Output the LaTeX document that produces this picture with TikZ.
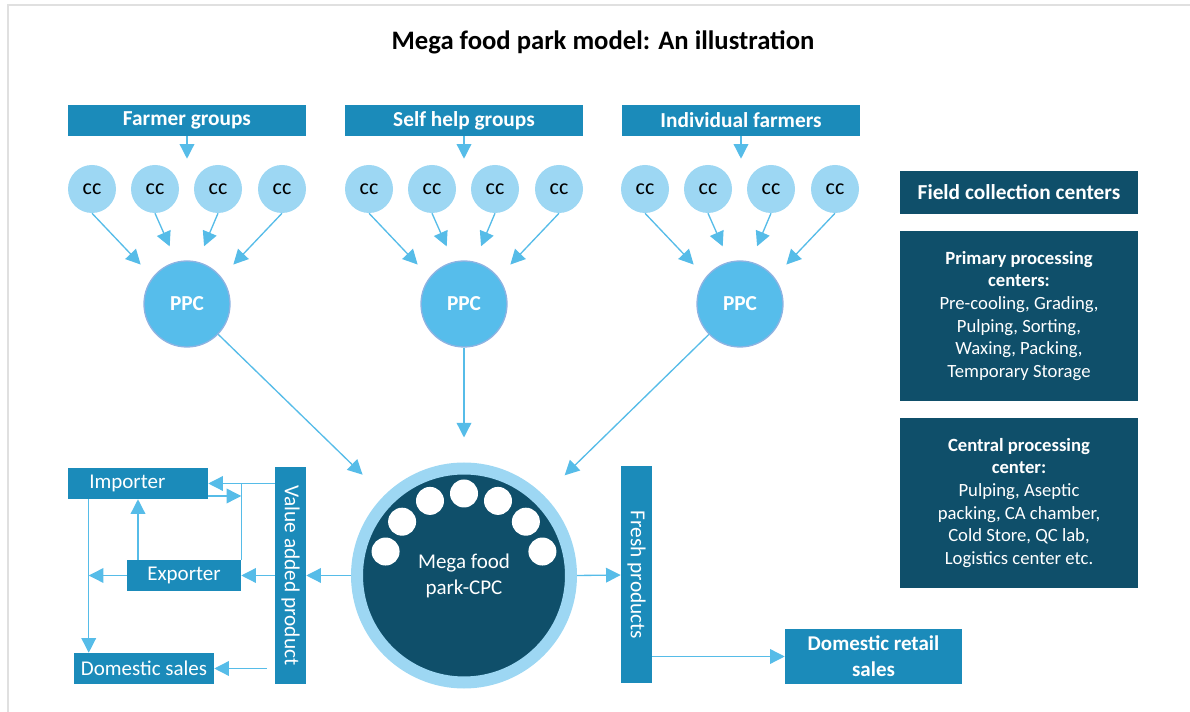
\documentclass[tikz,border=0pt]{standalone}
\usepackage{fontspec}
\setmainfont{Carlito}
\usetikzlibrary{arrows.meta}

\definecolor{midblue}{RGB}{27,139,186}
\definecolor{arrowblue}{RGB}{86,188,232}
\definecolor{ccblue}{RGB}{157,215,243}
\definecolor{ppcblue}{RGB}{86,189,235}
\definecolor{ppcedge}{RGB}{141,179,226}
\definecolor{darkteal}{RGB}{15,79,106}
\definecolor{framegrey}{RGB}{224,224,224}

\begin{document}
\begin{tikzpicture}[x=0.75pt,y=0.75pt,yscale=-1,xscale=1,
  hdr/.style={fill=midblue,text=white,font=\fontsize{16}{18}\selectfont\bfseries,minimum width=178.5pt,minimum height=23.25pt,inner sep=0pt},
  ccnode/.style={circle,fill=ccblue,minimum size=36pt,inner sep=0pt,font=\fontsize{16.5}{18}\selectfont},
  ppcnode/.style={circle,fill=ppcblue,draw=ppcedge,line width=1pt,minimum size=64.5pt,inner sep=0pt,text=white,font=\fontsize{16}{18}\selectfont\bfseries},
  bar/.style={fill=midblue,text=white,minimum width=23.25pt,minimum height=162.75pt,inner sep=0pt,font=\fontsize{16}{18}\selectfont},
  salebox/.style={fill=midblue,text=white,inner sep=0pt,minimum height=23.25pt,font=\fontsize{15.75}{18}\selectfont},
  infobox/.style={fill=darkteal,text=white,minimum width=178.5pt,inner sep=0pt,align=center,font=\fontsize{14}{17}\selectfont},
  arr/.style={draw=arrowblue,line width=1pt,-{Triangle[length=11pt,width=11pt]}},
  ln/.style={draw=arrowblue,line width=1pt}
]
\useasboundingbox (0,0) rectangle (1190,712);
%frame
\draw[framegrey,line width=1.5pt] (8,712) -- (8,5) -- (1190,5);

% Title
\node (title) at (603,42) {\fontsize{20}{22}\selectfont\bfseries Mega food park model: An illustration};

% Source groups
\node[hdr] (farmers) at (187,120.5) {Farmer groups};
\node[hdr] (selfhelp) at (464,120.5) {Self help groups};
\node[hdr] (individual) at (741,120.5) {Individual farmers};

% cc and PPC
\foreach \g/\gx in {1/187,2/464,3/740} {
  \foreach \i/\dx in {1/-95,2/-32,3/31,4/95}
    \node[ccnode] (cc\g\i) at (\gx+\dx,189) {cc};
  \node[ppcnode] (ppc\g) at (\gx,304) {PPC};
}
\foreach \g/\h in {1/farmers,2/selfhelp,3/individual} {
  \draw[arr,shorten >=4.5pt] (\h.south) -- (\h.south |- cc\g1.north);
  \draw[arr,shorten >=13pt] (cc\g1.south) -- (ppc\g.142);
  \draw[arr,shorten >=12.5pt] (cc\g2.south) -- (ppc\g.104);
  \draw[arr,shorten >=12.5pt] (cc\g3.south) -- (ppc\g.76);
  \draw[arr,shorten >=13pt] (cc\g4.south) -- (ppc\g.38);
}

% Mega food park
\node[circle,fill=darkteal,draw=ccblue,line width=9pt,minimum size=160.5pt,inner sep=0pt,text=white,align=center,font=\fontsize{15.75}{19.5}\selectfont] (mega) at (464,575.5) {Mega food\\park-CPC};
\foreach \a in {17,41,65.5,90,114.5,139,163}
  \fill[white] ([shift={(-\a:82)}]mega.center) circle (14);

\draw[arr,shorten >=22.5pt] (ppc1) -- (mega.135);
\draw[arr,shorten >=18.75pt] (ppc2) -- (mega.north);
\draw[arr,shorten >=21.75pt] (ppc3) -- (mega.45);

% Outlets
\node[bar] (vap) at (290.5,575.5) {\rotatebox{-90}{Value added product}};
\node[bar] (fresh) at (636.5,575) {\rotatebox{-90}{Fresh products}};
\node[salebox,minimum width=105pt] (importer) at (138,483.5) {\makebox[105pt][l]{\hspace{16pt}Importer}};
\node[salebox,minimum width=85.5pt] (exporter) at (184,575.5) {Exporter};
\node[salebox,minimum width=105pt] (dsales) at (144,668.5) {Domestic sales};
\node[salebox,minimum width=132.75pt,minimum height=41.25pt,align=center,font=\fontsize{15.75}{19.5}\selectfont\bfseries] (retail) at (873.5,656.5) {Domestic retail\\sales};

\draw[arr] (mega.west) -- (vap.east);
\draw[arr] (mega.east) -- (fresh.west);
\draw[arr] (fresh.east |- retail) -- (retail.west);
\draw[arr] (vap.west |- importer) -- (importer.east);
\draw[ln] (exporter.north east) -- (exporter.north east |- importer);
\coordinate (impout) at ([shift={(0,12.5)}]importer.east);
\draw[arr] (impout) -- (impout -| exporter.east);
\draw[arr] (vap.west |- exporter) -- (exporter.east);
\draw[arr] (exporter.north -| importer) -- (importer.south);
\coordinate (split) at ([shift={(21,0)}]importer.south west);
\draw[arr] (exporter.west) -- (exporter.west -| split);
\draw[arr] (split) -- (split |- dsales.north);
\draw[arr,shorten <=6pt] (vap.west |- dsales) -- (dsales.east);

% Legend
\node[infobox,minimum height=32.25pt,font=\fontsize{16}{17}\selectfont\bfseries] (field) at (1019,192.5) {Field collection centers};
\node[infobox,minimum height=127.5pt] (primary) at (1019,316) {\textbf{Primary processing}\\\textbf{centers:}\\Pre-cooling, Grading,\\Pulping, Sorting,\\Waxing, Packing,\\Temporary Storage};
\node[infobox,minimum height=127.5pt] (central) at (1019,503) {\textbf{Central processing}\\\textbf{center:}\\Pulping, Aseptic\\packing, CA chamber,\\Cold Store, QC lab,\\Logistics center etc.};

\end{tikzpicture}
\end{document}
